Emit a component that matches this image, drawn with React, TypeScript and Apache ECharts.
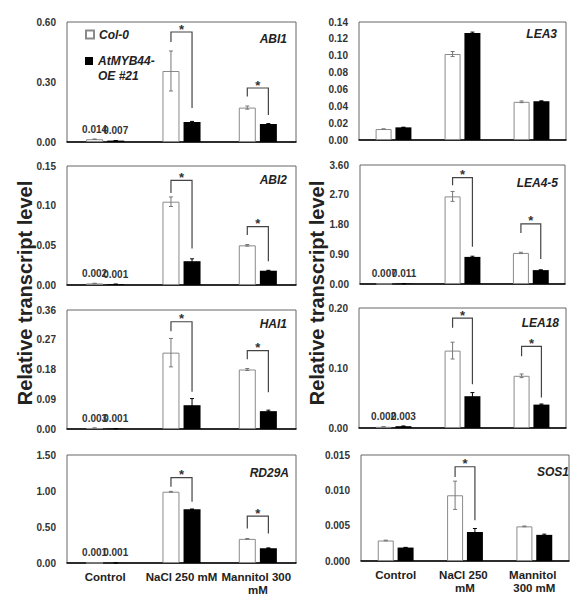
import React, { useEffect, useRef } from 'react';
import * as echarts from 'echarts';

const categories = ['Control', 'NaCl 250 mM', 'Mannitol 300 mM'];
const seriesNames = ['Col-0', 'AtMYB44-OE #21'];
const genes = ['ABI1', 'LEA3', 'ABI2', 'LEA4-5', 'HAI1', 'LEA18', 'RD29A', 'SOS1'];
const yAxisTitle = 'Relative transcript level';

const yMax = [0.6, 0.14, 0.15, 3.6, 0.36, 0.2, 1.5, 0.015];
const yInterval = [0.3, 0.02, 0.05, 0.9, 0.09, 0.1, 0.5, 0.005];
const yDecimals = [2, 2, 2, 2, 2, 2, 2, 3];
const showControlLabels = [true, false, true, true, true, true, true, false];

// Col-0 (white bars)
const colABI1 = [0.014, 0.355, 0.172];
const colLEA3 = [0.013, 0.102, 0.0453];
const colABI2 = [0.002, 0.105, 0.05];
const colLEA45 = [0.007, 2.65, 0.94];
const colHAI1 = [0.003, 0.231, 0.18];
const colLEA18 = [0.002, 0.129, 0.087];
const colRD29A = [0.001, 0.99, 0.335];
const colSOS1 = [0.0029, 0.0093, 0.0049];

const colErrABI1 = [0.001, 0.1, 0.008];
const colErrLEA3 = [0.0002, 0.003, 0.001];
const colErrABI2 = [0.0002, 0.006, 0.001];
const colErrLEA45 = [0.001, 0.15, 0.02];
const colErrHAI1 = [0.0003, 0.043, 0.003];
const colErrLEA18 = [0.0003, 0.014, 0.003];
const colErrRD29A = [0.0001, 0.005, 0.005];
const colErrSOS1 = [0.00005, 0.002, 0.00005];

// AtMYB44-OE #21 (black bars)
const oeABI1 = [0.007, 0.1, 0.09];
const oeLEA3 = [0.015, 0.127, 0.046];
const oeABI2 = [0.001, 0.03, 0.018];
const oeLEA45 = [0.011, 0.82, 0.42];
const oeHAI1 = [0.001, 0.072, 0.054];
const oeLEA18 = [0.003, 0.053, 0.039];
const oeRD29A = [0.001, 0.745, 0.205];
const oeSOS1 = [0.0019, 0.0041, 0.0037];

const oeErrABI1 = [0.0005, 0.003, 0.002];
const oeErrLEA3 = [0.0002, 0.001, 0.0005];
const oeErrABI2 = [0.0001, 0.003, 0.0005];
const oeErrLEA45 = [0.001, 0.02, 0.01];
const oeErrHAI1 = [0.0001, 0.02, 0.003];
const oeErrLEA18 = [0.0003, 0.006, 0.001];
const oeErrRD29A = [0.0001, 0.005, 0.005];
const oeErrSOS1 = [0.00003, 0.0005, 0.0001];

// significance brackets: [category, bracket top, left end, right end]
const brABI1 = [[1, 0.55, 0.5, 0.17], [2, 0.27, 0.227, 0.135]];
const brLEA3: number[][] = [];
const brABI2 = [[1, 0.132, 0.116, 0.046], [2, 0.0735, 0.063, 0.03]];
const brLEA45 = [[1, 3.22, 2.99, 1.13], [2, 1.82, 1.54, 0.76]];
const brHAI1 = [[1, 0.3245, 0.296, 0.113], [2, 0.237, 0.211, 0.111]];
const brLEA18 = [[1, 0.183, 0.167, 0.073], [2, 0.136, 0.1195, 0.051]];
const brRD29A = [[1, 1.187, 1.06, 0.85], [2, 0.65, 0.48, 0.41]];
const brSOS1 = [[1, 0.01334, 0.0119, 0.00578]];

const colValues = [colABI1, colLEA3, colABI2, colLEA45, colHAI1, colLEA18, colRD29A, colSOS1];
const colErrors = [colErrABI1, colErrLEA3, colErrABI2, colErrLEA45, colErrHAI1, colErrLEA18, colErrRD29A, colErrSOS1];
const oeValues = [oeABI1, oeLEA3, oeABI2, oeLEA45, oeHAI1, oeLEA18, oeRD29A, oeSOS1];
const oeErrors = [oeErrABI1, oeErrLEA3, oeErrABI2, oeErrLEA45, oeErrHAI1, oeErrLEA18, oeErrRD29A, oeErrSOS1];
const brackets = [brABI1, brLEA3, brABI2, brLEA45, brHAI1, brLEA18, brRD29A, brSOS1];

// layout (style only)
const grids = [
  { left: 67, top: 22, width: 229, height: 120 },
  { left: 359, top: 22, width: 207, height: 118 },
  { left: 67, top: 166, width: 229, height: 119 },
  { left: 360, top: 165, width: 205, height: 119 },
  { left: 67, top: 310, width: 229, height: 119 },
  { left: 359, top: 308, width: 207, height: 120 },
  { left: 67, top: 455, width: 229, height: 108 },
  { left: 361, top: 455, width: 208, height: 106 },
];
const geneLabelPos = [
  [287, 39], [557, 34], [287, 180], [558, 183], [287, 324], [559, 323], [289, 473], [569, 472],
];

const FONT = '"Liberation Sans", Arial, Helvetica, sans-serif';
const TEXT = '#222';
const GAP_RATIO = 0.24;

export default function App() {
  const ref = useRef<HTMLDivElement>(null);

  useEffect(() => {
    if (!ref.current) return;
    const chart = echarts.init(ref.current, null, { renderer: 'svg' });

    const series: any[] = [];
    genes.forEach((g, p) => {
      const isLeft = p % 2 === 0;
      const bw = isLeft ? 17 : 16;
      const half = (bw + bw * GAP_RATIO) / 2;
      const labelCfg = {
        show: false,
        position: 'top',
        distance: 5,
        fontFamily: FONT,
        fontSize: 10,
        fontWeight: 'bold',
        color: '#333',
        formatter: (q: any) => Number(q.value).toFixed(3),
      };
      series.push({
        type: 'bar',
        name: seriesNames[0],
        xAxisIndex: p,
        yAxisIndex: p,
        barWidth: bw,
        barGap: GAP_RATIO * 100 + '%',
        itemStyle: { color: '#ffffff', borderColor: '#8a8a8a', borderWidth: 1 },
        label: labelCfg,
        data: colValues[p].map((v, i) => ({ value: v, label: { show: showControlLabels[p] && i === 0 } })),
      });
      series.push({
        type: 'bar',
        name: seriesNames[1],
        xAxisIndex: p,
        yAxisIndex: p,
        barWidth: bw,
        barGap: GAP_RATIO * 100 + '%',
        itemStyle: { color: '#000000', borderColor: '#000000', borderWidth: 0 },
        label: labelCfg,
        data: oeValues[p].map((v, i) => ({ value: v, label: { show: showControlLabels[p] && i === 0 } })),
      });
      const errData: number[][] = [];
      colValues[p].forEach((v, i) => errData.push([i, v, colErrors[p][i], 0]));
      oeValues[p].forEach((v, i) => errData.push([i, v, oeErrors[p][i], 1]));
      series.push({
        type: 'custom',
        name: 'err' + p,
        xAxisIndex: p,
        yAxisIndex: p,
        silent: true,
        z: 5,
        encode: { x: 0, y: 1 },
        data: errData,
        renderItem: (params: any, api: any) => {
          const cat = api.value(0);
          const v = api.value(1);
          const e = api.value(2);
          const s = api.value(3);
          const c = api.coord([cat, v]);
          const x = c[0] + (s === 0 ? -half : half);
          const yT = api.coord([cat, v + e])[1];
          const yB = api.coord([cat, Math.max(0, v - e)])[1];
          const color = s === 0 ? '#777' : '#000';
          const st = { stroke: color, lineWidth: 1 };
          return {
            type: 'group',
            children: [
              { type: 'line', shape: { x1: x, y1: yT, x2: x, y2: yB }, style: st },
              { type: 'line', shape: { x1: x - 2, y1: yT, x2: x + 2, y2: yT }, style: st },
              { type: 'line', shape: { x1: x - 2, y1: yB, x2: x + 2, y2: yB }, style: st },
            ],
          };
        },
      });
      if (brackets[p].length) {
        series.push({
          type: 'custom',
          name: 'sig' + p,
          xAxisIndex: p,
          yAxisIndex: p,
          silent: true,
          z: 6,
          encode: { x: 0, y: 1 },
          data: brackets[p],
          renderItem: (params: any, api: any) => {
            const cat = api.value(0);
            const top = api.value(1);
            const le = api.value(2);
            const re = api.value(3);
            const cx = api.coord([cat, top])[0];
            const xL = cx - half;
            const xR = cx + half;
            const yTop = api.coord([cat, top])[1];
            const yL = api.coord([cat, le])[1];
            const yR = api.coord([cat, re])[1];
            return {
              type: 'group',
              children: [
                {
                  type: 'polyline',
                  shape: { points: [[xL, yL], [xL, yTop], [xR, yTop], [xR, yR]] },
                  style: { stroke: '#444', lineWidth: 1.2, fill: 'none' },
                },
                {
                  type: 'text',
                  style: {
                    text: '*',
                    x: (xL + xR) / 2,
                    y: yTop - 3,
                    fill: '#333',
                    font: 'bold 13px ' + FONT,
                    align: 'center',
                    verticalAlign: 'middle',
                  },
                },
              ],
            };
          },
        });
      }
    });

    const option: any = {
      animation: false,
      backgroundColor: '#ffffff',
      textStyle: { fontFamily: FONT },
      title: genes.map((g, p) => ({
        text: g,
        right: 578 - geneLabelPos[p][0],
        top: geneLabelPos[p][1] - 7,
        padding: 0,
        textStyle: {
          fontFamily: FONT,
          fontSize: 12,
          fontWeight: 'bold',
          fontStyle: 'italic',
          color: TEXT,
          lineHeight: 14,
        },
      })),
      legend: [
        {
          data: [seriesNames[0]],
          left: 85,
          top: 27,
          icon: 'rect',
          itemWidth: 8,
          itemHeight: 8,
          selectedMode: false,
          padding: 0,
          textStyle: { fontFamily: FONT, fontSize: 12, fontWeight: 'bold', fontStyle: 'italic', color: TEXT, lineHeight: 15 },
        },
        {
          data: [seriesNames[1]],
          left: 85,
          top: 38.5,
          icon: 'rect',
          itemWidth: 8,
          itemHeight: 8,
          selectedMode: false,
          padding: 0,
          formatter: () => '\nAtMYB44-\nOE #21',
          textStyle: { fontFamily: FONT, fontSize: 12, fontWeight: 'bold', fontStyle: 'italic', color: TEXT, lineHeight: 15 },
        },
      ],
      grid: grids.map((g) => ({
        ...g,
        show: true,
        borderColor: '#666',
        borderWidth: 1,
        backgroundColor: 'transparent',
        containLabel: false,
      })),
      xAxis: genes.map((g, p) => ({
        type: 'category',
        gridIndex: p,
        data: categories,
        axisTick: { show: false },
        axisLine: { show: true, lineStyle: { color: '#000', width: 1.5 } },
        axisLabel: {
          show: p >= 6,
          interval: 0,
          width: p % 2 === 0 ? 80 : 62,
          overflow: 'break',
          fontFamily: FONT,
          fontSize: 11.5,
          fontWeight: 'bold',
          color: TEXT,
          lineHeight: 13,
          margin: 7,
        },
        splitLine: { show: false },
      })),
      yAxis: genes.map((g, p) => ({
        type: 'value',
        gridIndex: p,
        min: 0,
        max: yMax[p],
        interval: yInterval[p],
        axisLine: { show: false },
        axisTick: { show: false },
        splitLine: { show: false },
        axisLabel: {
          fontFamily: FONT,
          fontSize: 10,
          fontWeight: 'bold',
          color: '#333',
          margin: 11,
          formatter: (v: number) => v.toFixed(yDecimals[p]),
        },
      })),
      graphic: [
        {
          type: 'text',
          x: 25,
          y: 293,
          rotation: Math.PI / 2,
          style: {
            text: yAxisTitle,
            font: 'bold 20px ' + FONT,
            fill: TEXT,
            align: 'center',
            verticalAlign: 'middle',
            textAlign: 'center',
            textVerticalAlign: 'middle',
          },
        },
        {
          type: 'text',
          x: 317,
          y: 293,
          rotation: Math.PI / 2,
          style: {
            text: yAxisTitle,
            font: 'bold 20px ' + FONT,
            fill: TEXT,
            align: 'center',
            verticalAlign: 'middle',
            textAlign: 'center',
            textVerticalAlign: 'middle',
          },
        },
      ],
      series,
    };

    chart.setOption(option);
    return () => chart.dispose();
  }, []);

  return (
    <div
      ref={ref}
      style={{ position: 'absolute', left: 0, top: 0, width: 578, height: 608, background: '#fff' }}
    />
  );
}
